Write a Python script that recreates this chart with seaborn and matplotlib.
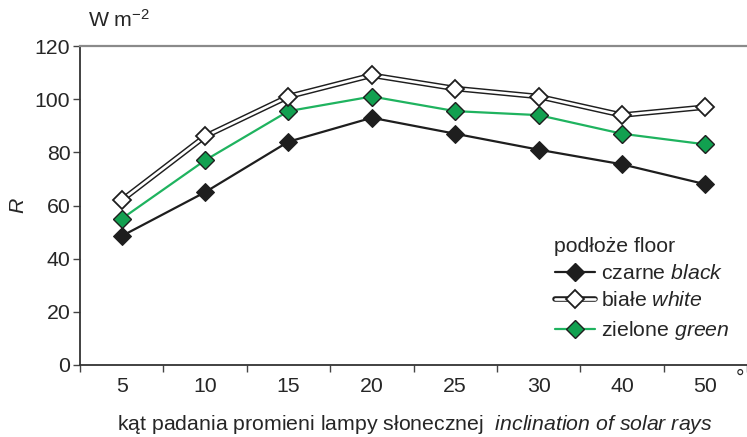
import numpy as np
import pandas as pd
import matplotlib
matplotlib.use("Agg")
import matplotlib.pyplot as plt
import seaborn as sns
from matplotlib.lines import Line2D
from matplotlib.legend_handler import HandlerTuple

# Incidence angles of the solar lamp (degrees)
angles = ["5", "10", "15", "20", "25", "30", "40", "50"]

# Reflected radiation R [W m-2] for each floor type
black = [48.5, 65, 84, 93, 87, 81, 75.5, 68]
white = [62, 86, 101, 109, 104, 101, 94, 97]
green = [55, 77, 95.5, 101, 95.5, 94, 87, 83]

sns.set_theme(style="white")
plt.rcParams["font.family"] = ["Liberation Sans", "DejaVu Sans"]
plt.rcParams["mathtext.fontset"] = "custom"
plt.rcParams["mathtext.rm"] = "Liberation Sans"
plt.rcParams["mathtext.it"] = "Liberation Sans:italic"

df = pd.DataFrame({
    "pos": np.arange(len(angles)),
    "black": black,
    "white": white,
    "green": green,
})

W, H = 747, 437
FS = 15.3
MS = 9.5
fig = plt.figure(figsize=(W / 100, H / 100), dpi=100)
ax = fig.add_axes([80 / W, 1 - 365 / H, (W - 80) / W, (365 - 46) / H])

dark = "#1e1e1e"
grn = "#12a050"
grn_line = "#1fb35f"

# black floor
sns.lineplot(data=df, x="pos", y="black", ax=ax, color=dark, lw=1.6,
             marker="D", markersize=MS, markerfacecolor=dark,
             markeredgecolor=dark, zorder=3)
# white floor: double outline line
sns.lineplot(data=df, x="pos", y="white", ax=ax, color=dark, lw=4.0,
             zorder=3)
sns.lineplot(data=df, x="pos", y="white", ax=ax, color="white", lw=1.9,
             marker="D", markersize=MS, markerfacecolor="white",
             markeredgecolor=dark, markeredgewidth=1.3, zorder=4)
# green floor
sns.lineplot(data=df, x="pos", y="green", ax=ax, color=grn_line, lw=1.6,
             marker="D", markersize=MS, markerfacecolor=grn,
             markeredgecolor=dark, markeredgewidth=1.0, zorder=3)

ax.set_xlim(-0.5, len(angles) - 0.5)
ax.set_ylim(0, 120)
ax.set_yticks(np.arange(0, 121, 20))
ax.tick_params(axis="y", which="major", direction="out", length=5, width=1,
               color="#444444", labelsize=FS, pad=2, left=True)

# category boundaries as ticks, labels centered in between
ax.set_xticks(np.arange(-0.5, len(angles), 1.0))
ax.set_xticklabels([])
ax.set_xticks(np.arange(len(angles)), minor=True)
ax.set_xticklabels(angles, minor=True)
ax.tick_params(axis="x", which="major", direction="out", length=5, width=1,
               color="#444444", bottom=True)
ax.tick_params(axis="x", which="minor", length=0, labelsize=FS, pad=9)

ax.set_xlabel("")
ax.set_ylabel("")
for s in ["left", "bottom"]:
    ax.spines[s].set_color("#333333")
    ax.spines[s].set_linewidth(1.3)
ax.spines["top"].set_color("#8a8a8a")
ax.spines["top"].set_linewidth(1.6)
ax.spines["right"].set_visible(False)

fig.text(88 / W, 1 - 20 / H, "W m$^{-2}$", fontsize=FS, va="center",
         ha="left")
fig.text(18 / W, 1 - 205 / H, "R", fontsize=FS, style="italic",
         rotation=90, va="center", ha="center")
fig.text(740 / W, 1 - 378 / H, "°", fontsize=FS, va="center",
         ha="center")
fig.text(415 / W, 1 - 424 / H,
         r"kąt padania promieni lampy słonecznej  "
         r"$\mathit{inclination\ of\ solar\ rays}$",
         fontsize=FS, va="center", ha="center")

h_black = Line2D([], [], color=dark, lw=1.6, marker="D", markersize=MS,
                 markerfacecolor=dark, markeredgecolor=dark)
h_white = (Line2D([], [], color=dark, lw=4.0),
           Line2D([], [], color="white", lw=1.9, marker="D", markersize=MS,
                  markerfacecolor="white", markeredgecolor=dark,
                  markeredgewidth=1.3))
h_green = Line2D([], [], color=grn_line, lw=1.6, marker="D", markersize=MS,
                 markerfacecolor=grn, markeredgecolor=dark,
                 markeredgewidth=1.0)
leg = ax.legend([h_black, h_white, h_green],
                [r"czarne $\mathit{black}$", r"białe $\mathit{white}$",
                 r"zielone $\mathit{green}$"],
                handler_map={tuple: HandlerTuple(ndivide=1)},
                title="podłoże floor", title_fontsize=FS, fontsize=FS,
                loc="upper left", bbox_to_anchor=(546 / W, 1 - 228 / H),
                bbox_transform=fig.transFigure, frameon=False,
                handlelength=1.9, handletextpad=0.3, labelspacing=0.4,
                borderaxespad=0, alignment="left")

fig.savefig("out.png", dpi=100)
